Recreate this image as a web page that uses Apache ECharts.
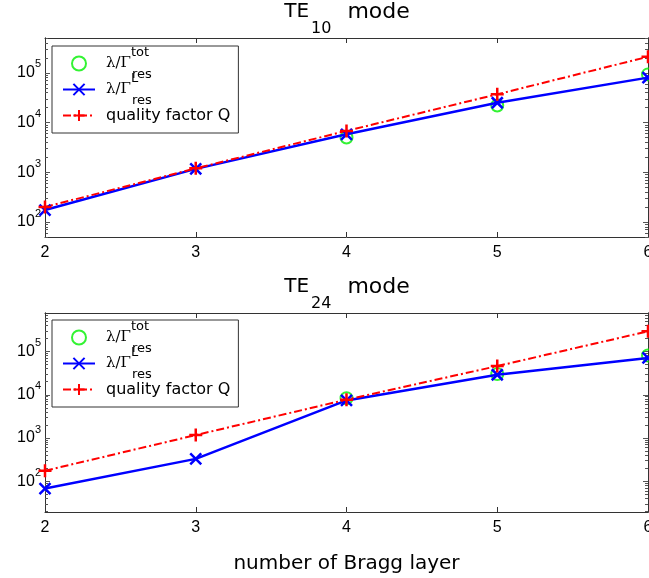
<!DOCTYPE html>
<html>
<head>
<meta charset="utf-8">
<script src="https://cdn.jsdelivr.net/npm/echarts@6/dist/echarts.min.js"></script>
<style>
html,body{margin:0;padding:0;background:#fff}
#chart{width:649px;height:578px}
</style>
</head>
<body>
<div id="chart"></div>
<script>
// number of Bragg layers (x)
var layers = [2, 3, 4, 5, 6];

// TE10 mode
var te10Tot = [null, null, 5000, 22000, 93000];
var te10L = [174, 1170, 5800, 25000, 80000];
var te10Q = [200, 1200, 6800, 37000, 210000];

// TE24 mode
var te24Tot = [null, null, 8300, 30000, 81000];
var te24L = [68, 330, 7400, 29000, 71000];
var te24Q = [175, 1170, 7700, 46000, 293000];

// decade ticks on the log axes
var decades = [100, 1000, 10000, 100000];
var minorTicks = [];
for (var e = 1; e <= 5; e++) {
    for (var m = 2; m <= 9; m++) minorTicks.push(m * Math.pow(10, e));
}

var font = 'Liberation Sans';
var wide = 'DejaVu Sans';
var names = ['tot', 'L', 'Q'];
var legendText = {
    tot: '{g|λ/Γ}{sup|tot}{sub|res}',
    L: '{g|λ/Γ}{sup|L}{sub|res}',
    Q: '{q|quality factor Q}'
};

var xMark = 'path://M0,0L10,10M10,0L0,10';
var plusMark = 'path://M5,0L5,10M0,5L10,5';

function pairs(vals) {
    var out = [];
    layers.forEach(function (x, i) {
        if (vals[i] != null) out.push([x, vals[i]]);
    });
    return out;
}

function xAxes(grid, pos, withLabel) {
    return {
        gridIndex: grid, type: 'value', min: 2, max: 6, interval: 1, position: pos,
        axisLine: {show: true, onZero: false, lineStyle: {color: '#333', width: 1}},
        axisTick: {show: true, inside: true, length: 5, lineStyle: {color: '#333'}},
        axisLabel: {show: withLabel, color: '#000', fontFamily: font, fontSize: 16, margin: 8},
        splitLine: {show: false}
    };
}

function yAxes(grid, range, pos, withLabel, ticks, len) {
    return {
        gridIndex: grid, type: 'log', min: range[0], max: range[1], position: pos,
        axisLine: {show: true, lineStyle: {color: '#333', width: 1}},
        axisTick: {show: true, inside: true, length: len, customValues: ticks, lineStyle: {color: '#555'}},
        axisLabel: {
            show: withLabel, customValues: decades, margin: 4,
            formatter: function (v) {
                return '{b|10}{s|' + Math.round(Math.log10(v)) + '}';
            },
            rich: {
                b: {fontFamily: font, fontSize: 16, color: '#000', lineHeight: 28},
                s: {fontFamily: font, fontSize: 11, color: '#000', verticalAlign: 'top'}
            }
        },
        splitLine: {show: false}
    };
}

var te10Range = [50, 501000];
var te24Range = [19.5, 776000];

var legendRich = {
    g: {fontFamily: 'DejaVu Serif', fontSize: 15, color: '#000', lineHeight: 35, padding: [0, 0, 0, 6]},
    sup: {fontFamily: wide, fontSize: 13, color: '#000', verticalAlign: 'top', width: 1},
    sub: {fontFamily: wide, fontSize: 13, color: '#000', verticalAlign: 'bottom'},
    q: {fontFamily: wide, fontSize: 16, color: '#000', lineHeight: 35, padding: [0, 0, 0, 6]}
};

function legendAt(top) {
    return {
        orient: 'vertical', left: 52, top: top,
        backgroundColor: '#fff', borderColor: '#333', borderWidth: 1, borderRadius: 0,
        padding: [0, 8, 0, 10], itemGap: -9, itemWidth: 32, itemHeight: 14,
        selectedMode: false,
        data: names,
        formatter: function (n) { return legendText[n]; },
        textStyle: {lineHeight: 35, rich: legendRich}
    };
}

function titleAt(top, sub) {
    return {
        text: '{a|TE}{s|' + sub + '}{m|mode}',
        left: 347, top: top, textAlign: 'center', padding: 0,
        textStyle: {
            fontWeight: 'normal',
            rich: {
                a: {fontFamily: wide, fontSize: 20, fontWeight: 'normal', color: '#000', lineHeight: 50},
                s: {fontFamily: wide, fontSize: 16, fontWeight: 'normal', color: '#000', verticalAlign: 'bottom', padding: [0, 6, 0, 2]},
                m: {fontFamily: wide, fontSize: 22, fontWeight: 'normal', color: '#000', lineHeight: 50, padding: [0, 0, 0, 10]}
            }
        }
    };
}

function seriesFor(xi, yi, tot, l, q) {
    return [
        {
            name: 'tot', type: 'scatter', xAxisIndex: xi, yAxisIndex: yi,
            symbol: 'circle', symbolSize: 12,
            itemStyle: {color: 'rgba(0,0,0,0)', borderColor: '#00f000', borderWidth: 2},
            data: pairs(tot)
        },
        {
            name: 'L', type: 'line', xAxisIndex: xi, yAxisIndex: yi,
            symbol: xMark, symbolSize: 11, showSymbol: true,
            lineStyle: {color: '#0000ff', width: 2.5},
            itemStyle: {color: '#0000ff', borderColor: '#0000ff', borderWidth: 2.5},
            data: pairs(l)
        },
        {
            name: 'Q', type: 'line', xAxisIndex: xi, yAxisIndex: yi,
            symbol: plusMark, symbolSize: 13, showSymbol: true,
            lineStyle: {color: '#ff0000', width: 2, type: [8, 3, 2, 3]},
            itemStyle: {color: '#ff0000', borderColor: '#ff0000', borderWidth: 2.5},
            data: pairs(q)
        }
    ];
}

var chart = echarts.init(document.getElementById('chart'), null, {renderer: 'canvas'});
var option = {
    backgroundColor: '#fff',
    animation: false,
    title: [titleAt(-13, '10'), titleAt(262, '24')],
    legend: [legendAt(46), legendAt(320)],
    grid: [
        {left: 45, right: 1, top: 38, height: 199, outerBoundsMode: 'none'},
        {left: 45, right: 1, top: 313, height: 199, outerBoundsMode: 'none'}
    ],
    xAxis: [
        xAxes(0, 'bottom', true),
        xAxes(0, 'top', false),
        Object.assign(xAxes(1, 'bottom', true), {
            name: 'number of Bragg layer', nameLocation: 'middle', nameGap: 42,
            nameTextStyle: {fontFamily: wide, fontSize: 20, color: '#000'}
        }),
        xAxes(1, 'top', false)
    ],
    yAxis: [
        yAxes(0, te10Range, 'left', true, decades, 5),
        yAxes(0, te10Range, 'right', false, decades, 5),
        yAxes(0, te10Range, 'left', false, minorTicks, 3),
        yAxes(0, te10Range, 'right', false, minorTicks, 3),
        yAxes(1, te24Range, 'left', true, decades, 5),
        yAxes(1, te24Range, 'right', false, decades, 5),
        yAxes(1, te24Range, 'left', false, minorTicks, 3),
        yAxes(1, te24Range, 'right', false, minorTicks, 3)
    ],
    series: seriesFor(0, 0, te10Tot, te10L, te10Q).concat(seriesFor(2, 4, te24Tot, te24L, te24Q))
};
chart.setOption(option);
</script>
</body>
</html>
